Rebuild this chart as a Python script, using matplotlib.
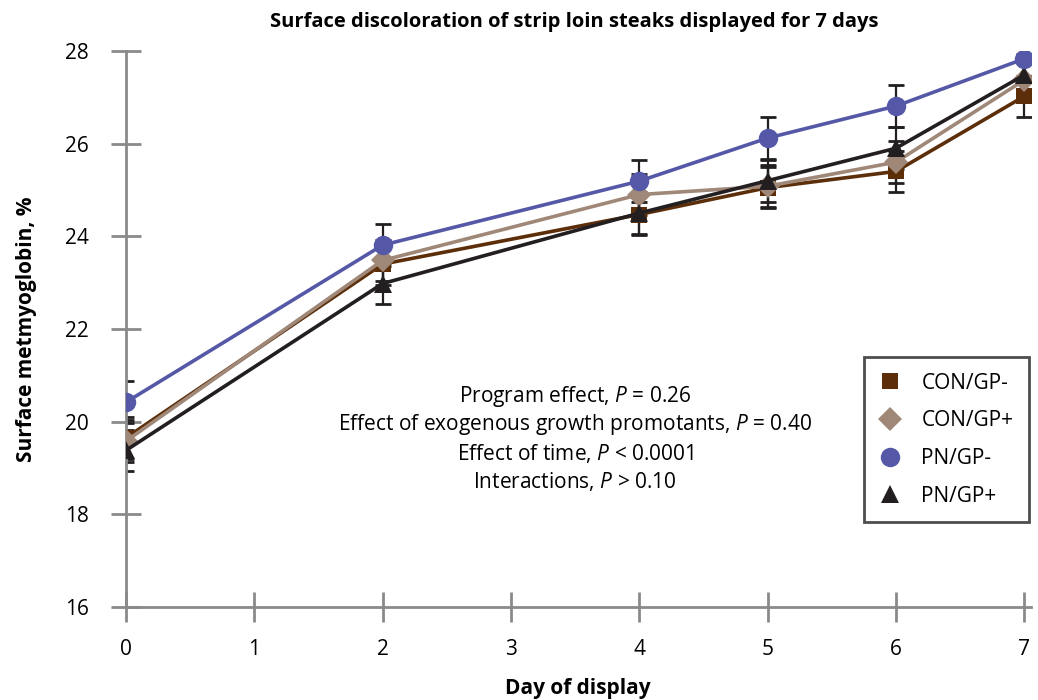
import matplotlib.pyplot as plt
import numpy as np

plt.rcParams['font.family'] = ['Open Sans', 'DejaVu Sans']
plt.rcParams['mathtext.fontset'] = 'custom'
plt.rcParams['mathtext.it'] = 'Open Sans:italic'
plt.rcParams['mathtext.rm'] = 'Open Sans'

# дни экспозиции
days = [0, 2, 4, 5, 6, 7]

# поверхностный метмиоглобин, %
con_gp_minus = [19.65, 23.40, 24.47, 25.05, 25.40, 27.02]
con_gp_plus = [19.58, 23.48, 24.90, 25.08, 25.60, 27.37]
pn_gp_minus = [20.42, 23.81, 25.19, 26.12, 26.81, 27.83]
pn_gp_plus = [19.38, 22.98, 24.50, 25.20, 25.90, 27.48]

# стандартные ошибки
sem = [0.45, 0.45, 0.46, 0.45]

labels = ['CON/GP-', 'CON/GP+', 'PN/GP-', 'PN/GP+']
colors = ['#5c2e0a', '#a08878', '#5558a6', '#231f20']
markers = ['s', 'D', 'o', '^']
msizes = [12, 12, 14, 13]
zorders = [3, 4, 6, 5]

x_ticks = [0, 1, 2, 3, 4, 5, 6, 7]
y_ticks = [16, 18, 20, 22, 24, 26, 28]

fig = plt.figure(figsize=(10.38, 7), dpi=100)
ax = fig.add_axes([0.1214, 0.1329, 0.8714, 0.7943])

series = [con_gp_minus, con_gp_plus, pn_gp_minus, pn_gp_plus]
for vals, err, lab, col, mk, ms, zo in zip(series, sem, labels, colors, markers, msizes, zorders):
    ax.errorbar(days, vals, yerr=err, fmt='none', ecolor='#231f20',
                elinewidth=1.6, capsize=6, capthick=2, zorder=2)
    ax.plot(days, vals, color=col, linewidth=2.6, zorder=zo)
    ax.plot(days, vals, linestyle='none', marker=mk, markersize=ms,
            color=col, markeredgewidth=0, zorder=zo + 0.5, label=lab)

ax.set_xlim(0, 7.05)
ax.set_ylim(16, 28)
ax.set_xticks(x_ticks)
ax.set_yticks(y_ticks)
ax.tick_params(axis='both', direction='inout', length=22, width=2,
               color='#8a8a8c', labelsize=15)
ax.tick_params(axis='x', pad=12)
ax.tick_params(axis='y', pad=16)
for side in ['top', 'right']:
    ax.spines[side].set_visible(False)
for side in ['left', 'bottom']:
    ax.spines[side].set_color('#8a8a8c')
    ax.spines[side].set_linewidth(2)
ax.patch.set_visible(False)

ax.set_xlabel('Day of display', fontsize=15, fontweight='bold', labelpad=13)
ax.set_ylabel('Surface metmyoglobin, %', fontsize=15, fontweight='bold')
ax.yaxis.set_label_coords(-0.098, 0.5)
fig.text(0.553, 0.968, 'Surface discoloration of strip loin steaks displayed for 7 days',
         ha='center', va='center', fontsize=14.5, fontweight='bold')

notes = ['Program effect, $P$ = 0.26',
         'Effect of exogenous growth promotants, $P$ = 0.40',
         'Effect of time, $P$ < 0.0001',
         'Interactions, $P$ > 0.10']
for i, line in enumerate(notes):
    ax.text(3.50, 20.55 - i * 0.615, line, ha='center', va='center', fontsize=15)

leg = ax.legend(loc='upper left', bbox_to_anchor=(0.816, 0.4496), frameon=True,
                fancybox=False, fontsize=15, handlelength=1.0, handletextpad=1.0,
                labelspacing=0.8, borderpad=0.75, borderaxespad=0,
                markerscale=1.0)
leg.get_frame().set_edgecolor('#231f20')
leg.get_frame().set_linewidth(2)

fig.savefig('out.png', dpi=100)
